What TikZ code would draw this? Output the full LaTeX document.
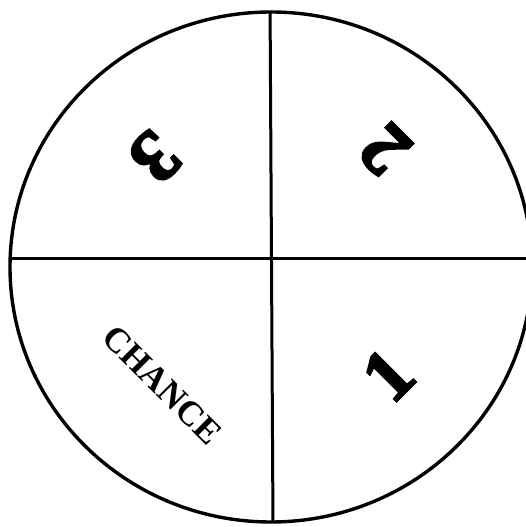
\documentclass[tikz,border=0pt]{standalone}
\usepackage{fontspec}
\setmainfont{Liberation Serif}
\newcommand{\heavy}[1]{\special{pdf:literal direct 2 Tr 2.4 w}#1\special{pdf:literal direct 0 Tr 1 w}}

\begin{document}
\begin{tikzpicture}[x=1pt, y=1pt,
  digit/.style={font=\fontsize{74}{74}\selectfont\bfseries, inner sep=0pt},
  word/.style={font=\fontsize{35}{35}\selectfont\bfseries, inner sep=0pt}]
\useasboundingbox (0,0) rectangle (526,527);
\draw[line width=3.4pt] (271,260) ellipse (261 and 255);
\begin{scope}
\clip (271,260) ellipse (261 and 255);
\draw[line width=3pt] (270,530) -- (273,0);
\draw[line width=3pt] (0,268) -- (540,268);
\end{scope}
\node[digit, rotate=-135] (three) at (155,370) {\heavy{3}};
\node[digit, rotate=135] (two) at (385,377) {\heavy{2}};
\node[digit, rotate=45] (one) at (388,152) {\heavy{1}};
\node[word, rotate=-45] (chance) at (162,142) {CHANCE};
\end{tikzpicture}
\end{document}
